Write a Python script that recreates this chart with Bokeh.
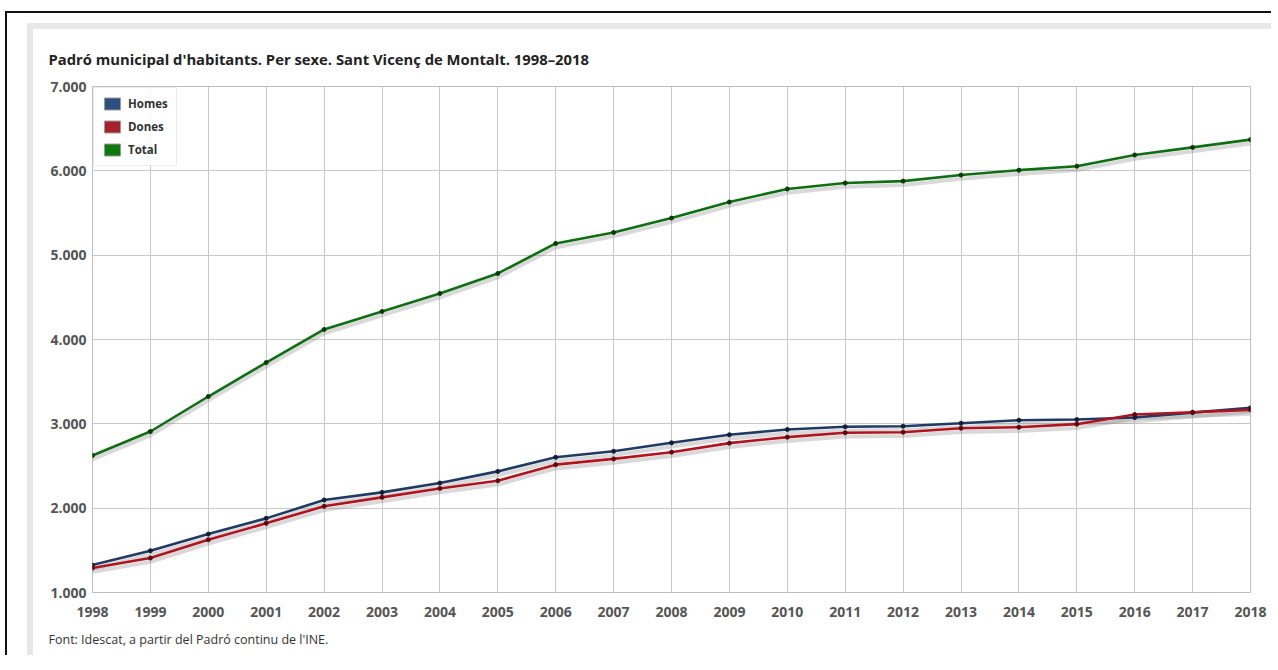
from bokeh.plotting import figure
from bokeh.models import (Range1d, FixedTicker, Legend, LegendItem, ColumnDataSource, Title)
from bokeh.embed import file_html
from bokeh.resources import INLINE

years = list(range(1998, 2019))
homes = [1325, 1495, 1693, 1879, 2097, 2187, 2298, 2436, 2603, 2674, 2775,
         2870, 2933, 2965, 2972, 3007, 3043, 3051, 3075, 3133, 3190]
dones = [1290, 1408, 1626, 1820, 2022, 2128, 2234, 2326, 2516, 2584, 2664,
         2771, 2842, 2894, 2901, 2948, 2960, 2996, 3110, 3137, 3166]
total = [2625, 2909, 3324, 3727, 4119, 4332, 4546, 4783, 5139, 5269, 5440,
         5630, 5785, 5855, 5878, 5950, 6008, 6055, 6188, 6278, 6370]

y_ticks = [1000, 2000, 3000, 4000, 5000, 6000, 7000]
y_tick_labels = ["1.000", "2.000", "3.000", "4.000", "5.000", "6.000", "7.000"]

title_text = "Padró municipal d'habitants. Per sexe. Sant Vicenç de Montalt. 1998–2018"
source_text = "Font: Idescat, a partir del Padró continu de l'INE."

FONT = "Open Sans"

p = figure(width=1266, height=644, output_backend="svg", toolbar_location=None,
           x_range=Range1d(1998, 2018), y_range=Range1d(1000, 7000),
           min_border_left=85, min_border_right=23, min_border_top=73, min_border_bottom=65)
p.background_fill_color = "white"
p.border_fill_alpha = 0
p.styles = {
    "margin-left": "5px",
    "margin-top": "11px",
    "border-left": "2px solid #111111",
    "border-top": "2px solid #111111",
    "background-color": "white",
    "background-image": "linear-gradient(#e8e8e8, #e8e8e8), linear-gradient(#e8e8e8, #e8e8e8)",
    "background-size": "6px 100%, 100% 6px",
    "background-position": "20px 10px, 20px 10px",
    "background-repeat": "no-repeat",
}
p.outline_line_color = "#bdbdbd"
p.outline_line_width = 1

# title and footer
p.title.text = title_text
p.title.align = "left"
p.title.offset = -44
p.title.standoff = 35
p.title.text_font = FONT
p.title.text_font_style = "bold"
p.title.text_font_size = "14.8px"
p.title.text_color = "#222222"
p.add_layout(Title(text=source_text, align="left", offset=-44, standoff=19,
                   text_font=FONT, text_font_style="normal", text_font_size="12.5px",
                   text_color="#333333"), "below")

# axes
p.xaxis.ticker = FixedTicker(ticks=years)
p.yaxis.ticker = FixedTicker(ticks=y_ticks)
p.yaxis.major_label_overrides = {t: l for t, l in zip(y_ticks, y_tick_labels)}
for ax in (p.xaxis, p.yaxis):
    ax.axis_line_color = None
    ax.major_tick_line_color = None
    ax.minor_tick_line_color = None
    ax.major_label_text_font = FONT
    ax.major_label_text_font_style = "bold"
    ax.major_label_text_font_size = "14px"
    ax.major_label_text_color = "#555555"
p.yaxis.major_tick_out = 0
p.yaxis.major_label_standoff = 6
p.xaxis.major_label_standoff = 8

p.xgrid.grid_line_color = "#c8c8c8"
p.ygrid.grid_line_color = "#c8c8c8"

# data
shadow = 45
src = ColumnDataSource(dict(
    year=years, homes=homes, dones=dones, total=total,
    homes_s=[v - shadow for v in homes], dones_s=[v - shadow for v in dones],
    total_s=[v - shadow for v in total]))

for col in ("homes_s", "dones_s", "total_s"):
    p.line("year", col, source=src, line_color="#808080", line_alpha=0.3, line_width=4)

series = [("homes", "#1f3a63", "#0f1f38"),
          ("dones", "#b0141f", "#5a0a10"),
          ("total", "#0e6e12", "#063a08")]
for col, c, mc in series:
    p.line("year", col, source=src, line_color=c, line_width=2.6)
    p.scatter("year", col, source=src, size=4, fill_color=mc, line_color=mc)

# legend with square swatches (renderers hold no visible data)
nan = float("nan")
legend_items = []
for name, c in [("Homes", "#2d4f80"), ("Dones", "#a8202b"), ("Total", "#0b7a0b")]:
    r = p.quad(left=[nan], right=[nan], top=[nan], bottom=[nan], fill_color=c,
               line_color="#9a9a9a", line_width=1)
    legend_items.append(LegendItem(label=name, renderers=[r], index=0))
legend = Legend(items=legend_items, location="top_left", margin=1, padding=8,
                spacing=8, glyph_width=20, glyph_height=15, label_height=15,
                label_standoff=6, label_text_font=FONT, label_text_font_size="11.5px",
                label_text_font_style="bold", label_text_color="#333333",
                border_line_color="#d8d8d8",
                background_fill_color="white", background_fill_alpha=0.85)
p.add_layout(legend)

open("out.html", "w").write(file_html(p, INLINE))
